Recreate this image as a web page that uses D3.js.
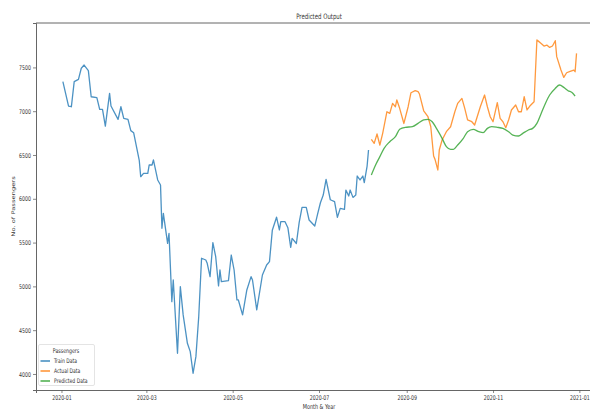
<!DOCTYPE html>
<html>
<head>
<meta charset="utf-8">
<script src="https://cdn.jsdelivr.net/npm/d3@7"></script>
<style>
  html, body { margin: 0; padding: 0; background: #fff; }
  svg { display: block; }
  text { font-family: "DejaVu Sans", sans-serif; fill: #333; }
</style>
</head>
<body>
<svg id="chart" width="590" height="411"></svg>
<script>
// Daily passenger counts: training window
const trainDates = ["2020-01-02","2020-01-06","2020-01-08","2020-01-10","2020-01-13","2020-01-15","2020-01-17","2020-01-20","2020-01-22","2020-01-26","2020-01-28","2020-01-30","2020-02-01","2020-02-04","2020-02-05","2020-02-10","2020-02-12","2020-02-14","2020-02-17","2020-02-19","2020-02-21","2020-02-25","2020-02-26","2020-02-28","2020-03-02","2020-03-03","2020-03-05","2020-03-06","2020-03-07","2020-03-09","2020-03-11","2020-03-12","2020-03-13","2020-03-15","2020-03-16","2020-03-17","2020-03-19","2020-03-20","2020-03-23","2020-03-25","2020-03-27","2020-03-30","2020-04-01","2020-04-03","2020-04-05","2020-04-07","2020-04-09","2020-04-12","2020-04-13","2020-04-15","2020-04-17","2020-04-19","2020-04-21","2020-04-22","2020-04-23","2020-04-28","2020-04-30","2020-05-02","2020-05-04","2020-05-05","2020-05-08","2020-05-11","2020-05-14","2020-05-15","2020-05-18","2020-05-22","2020-05-25","2020-05-27","2020-05-29","2020-06-01","2020-06-03","2020-06-04","2020-06-07","2020-06-09","2020-06-11","2020-06-12","2020-06-15","2020-06-17","2020-06-19","2020-06-22","2020-06-24","2020-06-28","2020-06-30","2020-07-02","2020-07-04","2020-07-06","2020-07-09","2020-07-12","2020-07-14","2020-07-16","2020-07-19","2020-07-20","2020-07-22","2020-07-23","2020-07-25","2020-07-27","2020-07-28","2020-07-30","2020-08-01","2020-08-02","2020-08-04","2020-08-05"];
const trainValues = [7337,7059,7051,7337,7364,7490,7527,7463,7165,7155,7021,7021,6830,7204,7059,6907,7051,6918,6907,6778,6755,6435,6252,6291,6291,6386,6386,6443,6367,6215,6158,5663,5834,5606,5492,5606,4825,5073,4236,4997,4674,4350,4255,4008,4198,4654,5321,5301,5263,5111,5499,5339,5005,5187,5054,5065,5358,5187,4845,4845,4674,4959,5111,5073,4731,5130,5244,5282,5640,5790,5644,5739,5739,5670,5446,5549,5490,5730,5902,5902,5758,5689,5826,5955,6043,6222,5989,5967,5788,5891,5879,6100,6032,6100,6016,6043,6260,6215,6260,6184,6374,6557];

// Observed passengers over the test window
const actualDates = ["2020-08-07","2020-08-09","2020-08-11","2020-08-13","2020-08-15","2020-08-18","2020-08-20","2020-08-22","2020-08-24","2020-08-25","2020-08-27","2020-08-30","2020-09-02","2020-09-04","2020-09-07","2020-09-09","2020-09-10","2020-09-13","2020-09-16","2020-09-18","2020-09-20","2020-09-21","2020-09-23","2020-09-24","2020-09-26","2020-09-29","2020-10-02","2020-10-05","2020-10-07","2020-10-10","2020-10-12","2020-10-14","2020-10-17","2020-10-19","2020-10-23","2020-10-26","2020-10-28","2020-10-30","2020-11-01","2020-11-04","2020-11-06","2020-11-08","2020-11-10","2020-11-12","2020-11-14","2020-11-17","2020-11-19","2020-11-21","2020-11-23","2020-11-25","2020-11-27","2020-11-30","2020-12-02","2020-12-03","2020-12-05","2020-12-07","2020-12-09","2020-12-11","2020-12-13","2020-12-15","2020-12-16","2020-12-19","2020-12-21","2020-12-23","2020-12-25","2020-12-28","2020-12-29","2020-12-30"];
const actualValues = [6679,6633,6740,6614,6747,6994,6975,7089,7051,7128,7033,6860,7051,7211,7234,7223,7196,7005,6937,6823,6488,6450,6329,6557,6671,6766,6823,6994,7089,7146,7033,6900,6880,6842,7051,7185,7051,6937,6880,7097,6918,6880,6812,6900,7014,7071,6994,6994,7165,7014,7059,7108,7813,7800,7774,7744,7755,7728,7744,7805,7623,7470,7386,7439,7451,7470,7451,7660];

// Model forecast over the test window
const predDates = ["2020-08-07","2020-08-10","2020-08-13","2020-08-16","2020-08-20","2020-08-24","2020-08-27","2020-08-31","2020-09-05","2020-09-09","2020-09-13","2020-09-16","2020-09-19","2020-09-22","2020-09-26","2020-09-29","2020-10-02","2020-10-04","2020-10-07","2020-10-11","2020-10-14","2020-10-18","2020-10-22","2020-10-25","2020-10-28","2020-10-31","2020-11-04","2020-11-08","2020-11-12","2020-11-15","2020-11-19","2020-11-22","2020-11-26","2020-11-29","2020-12-02","2020-12-05","2020-12-08","2020-12-11","2020-12-15","2020-12-18","2020-12-21","2020-12-24","2020-12-27","2020-12-29"];
const predValues = [6272,6386,6481,6576,6652,6709,6793,6816,6823,6861,6900,6907,6880,6804,6690,6595,6565,6565,6614,6690,6766,6793,6766,6755,6804,6823,6816,6804,6766,6728,6717,6747,6785,6804,6861,6975,7089,7185,7261,7299,7272,7234,7211,7173];

const xTickLabels = ["2020-01","2020-03","2020-05","2020-07","2020-09","2020-11","2021-01"];
const yTickLabels = [4000,4500,5000,5500,6000,6500,7000,7500];

const seriesNames = ["Train Data","Actual Data","Predicted Data"];
const seriesColors = ["#1f77b4","#ff7f0e","#2ca02c"];

const parse = d3.utcParse("%Y-%m-%d");
const parseMonth = d3.utcParse("%Y-%m");

const svg = d3.select("#chart");
const plotLeft = 36, plotRight = 602, plotTop = 23, plotBottom = 390;
const sx = 0.72; // horizontal text compression

const x = d3.scaleUtc()
  .domain([parse("2019-12-14"), parse("2021-01-17")])
  .range([plotLeft, plotRight]);
const y = d3.scaleLinear()
  .domain([3817, 8007])
  .range([plotBottom, plotTop]);

// Spines
const spine = "#555";
svg.append("line").attr("x1", plotLeft).attr("x2", plotRight).attr("y1", plotTop).attr("y2", plotTop)
  .attr("stroke", spine).attr("stroke-width", 0.9);
svg.append("line").attr("x1", plotRight).attr("x2", plotRight).attr("y1", plotTop).attr("y2", plotBottom)
  .attr("stroke", spine).attr("stroke-width", 0.9);

// Axes
const xAxis = d3.axisBottom(x)
  .tickValues(xTickLabels.map(parseMonth))
  .tickFormat(d3.utcFormat("%Y-%m"))
  .tickSize(3).tickPadding(2);
const gx = svg.append("g").attr("transform", `translate(0,${plotBottom})`).call(xAxis);
gx.select(".domain").attr("stroke", spine).attr("stroke-width", 0.9);
gx.selectAll(".tick line").attr("stroke", spine).attr("stroke-width", 0.7);
gx.selectAll(".tick text")
  .attr("font-family", "DejaVu Sans").attr("font-size", 6.5).attr("fill", "#333")
  .attr("dy", "0.71em")
  .attr("transform", `scale(${sx},1)`);

const yAxis = d3.axisLeft(y)
  .tickValues(yTickLabels)
  .tickFormat(d3.format("d"))
  .tickSize(3).tickPadding(2);
const gy = svg.append("g").attr("transform", `translate(${plotLeft},0)`).call(yAxis);
gy.select(".domain").attr("stroke", spine).attr("stroke-width", 0.9);
gy.selectAll(".tick line").attr("stroke", spine).attr("stroke-width", 0.7);
gy.selectAll(".tick text")
  .attr("font-family", "DejaVu Sans").attr("font-size", 6.5).attr("fill", "#333")
  .attr("x", -5 / sx)
  .attr("transform", `scale(${sx},1)`);

// Squeezed text helper
function label(txt, px, py, size, anchor) {
  return svg.append("text")
    .attr("transform", `translate(${px},${py}) scale(${sx},1)`)
    .attr("text-anchor", anchor || "middle")
    .attr("font-size", size)
    .text(txt);
}

label("Predicted Output", (plotLeft + plotRight) / 2, 19, 7.5);
label("Month & Year", (plotLeft + plotRight) / 2, 409, 6.8);
svg.append("text")
  .attr("transform", `translate(15,${(plotTop + plotBottom) / 2}) rotate(-90) scale(1,${sx})`)
  .attr("text-anchor", "middle").attr("font-size", 6.8)
  .text("No. of Passengers");

// Series lines
const mk = (dates, vals) => dates.map((d, i) => ({ date: parse(d), value: vals[i] }));
const series = [
  { data: mk(trainDates, trainValues), curve: d3.curveLinear },
  { data: mk(actualDates, actualValues), curve: d3.curveLinear },
  { data: mk(predDates, predValues), curve: d3.curveMonotoneX }
];

series.forEach((s, i) => {
  const line = d3.line().x(d => x(d.date)).y(d => y(d.value)).curve(s.curve);
  svg.append("path")
    .datum(s.data)
    .attr("fill", "none")
    .attr("stroke", seriesColors[i])
    .attr("stroke-width", 1.3)
    .attr("stroke-opacity", 0.8)
    .attr("stroke-linejoin", "round")
    .attr("d", line);
});

// Legend
const lg = svg.append("g");
lg.append("rect").attr("x", 38.5).attr("y", 344.5).attr("width", 56).attr("height", 41)
  .attr("fill", "#fff").attr("fill-opacity", 0.8)
  .attr("stroke", "#ddd").attr("stroke-width", 0.8).attr("rx", 1.5);
label("Passengers", 66, 353, 6.5);
seriesNames.forEach((n, i) => {
  const yy = 361 + i * 10;
  lg.append("line").attr("x1", 40.5).attr("x2", 50).attr("y1", yy).attr("y2", yy)
    .attr("stroke", seriesColors[i]).attr("stroke-width", 1.3);
  label(n, 54, yy + 2.2, 6.3, "start");
});
</script>
</body>
</html>
